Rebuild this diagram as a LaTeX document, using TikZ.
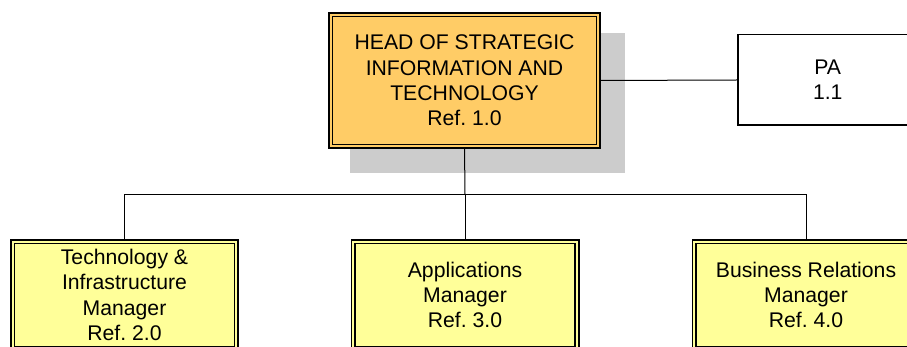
\documentclass[tikz,border=0pt]{standalone}
\usepackage{fontspec}
\setmainfont{Liberation Sans}
\frenchspacing
\definecolor{headfill}{RGB}{255,204,102}
\definecolor{mgrfill}{RGB}{255,255,153}
\definecolor{shadowgray}{RGB}{204,204,204}
\begin{document}
\begin{tikzpicture}[x=1pt,y=-1pt,
  txt/.style={font=\fontsize{21.2}{25.3}\selectfont, align=center, text=black},
  dbox/.style={txt, rectangle, draw=black, line width=1.7pt, double distance=2pt, inner sep=0pt},
  headbox/.style={dbox, fill=headfill, double=headfill, minimum width=267.6pt, minimum height=131.6pt},
  mgrbox/.style={dbox, fill=mgrfill, double=mgrfill, minimum width=223.6pt, minimum height=106.6pt},
  pabox/.style={txt, rectangle, draw=black, line width=1.5pt, fill=white, minimum width=180pt, minimum height=90.5pt},
  conn/.style={draw=black, line width=1pt},
  shadowbox/.style={fill=shadowgray}]
\useasboundingbox (0,0) rectangle (907,347);
\clip (0,0) rectangle (907,347);
\fill[shadowbox] (350,33) rectangle (625,173);
\node[headbox] (head) at (464.5,80.5) {HEAD OF STRATEGIC\\INFORMATION AND\\TECHNOLOGY\\Ref. 1.0};
\node[pabox] (pa) at (827.75,80) {PA\\1.1};
\node[mgrbox] (tech) at (124.5,295) {Technology \&\\Infrastructure\\Manager\\Ref. 2.0};
\node[mgrbox] (apps) at (465,295) {Applications\\Manager\\Ref. 3.0};
\node[mgrbox] (biz) at (806,295) {Business Relations\\Manager\\Ref. 4.0};
\coordinate (bus) at (465,194.5);
\draw[conn] (head.east) -- (pa.west);
\draw[conn] (head.south) -- (bus);
\draw[conn] (tech.north) |- (bus) -| (biz.north);
\draw[conn] (bus) -- (apps.north);
\end{tikzpicture}
\end{document}
